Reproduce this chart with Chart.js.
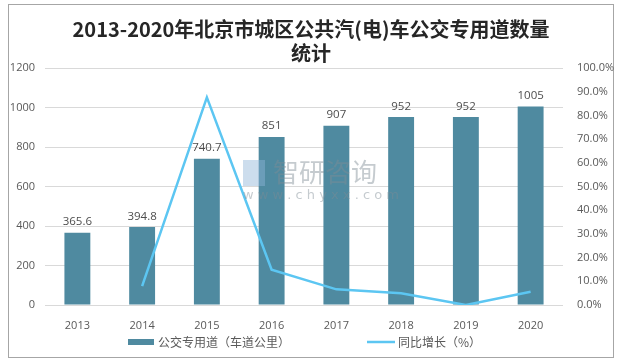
<!DOCTYPE html>
<html><head><meta charset="utf-8">
<script src="https://cdn.jsdelivr.net/npm/chart.js@4/dist/chart.umd.min.js"></script>
<style>html,body{margin:0;padding:0;background:#fff}#c{display:block}</style>
</head><body>
<canvas id="c" width="624" height="364"></canvas>
<script>
const categories = ['2013','2014','2015','2016','2017','2018','2019','2020'];
const laneKm = [365.6, 394.8, 740.7, 851, 907, 952, 952, 1005];
const growthPct = [null, 8.0, 87.6, 14.9, 6.6, 5.0, 0.0, 5.6];
const titleLines = ['2013-2020年北京市城区公共汽(电)车公交专用道数量', '统计'];
const barLabel = '公交专用道（车道公里）';
const lineLabel = '同比增长（%）';
const watermark = ['智研咨询', 'www.chyxx.com'];

const BAR = '#4f8aa0', LINE = '#5cc6f2', TICK = '#595959';
const FONT = '"Open Sans","Noto Sans CJK SC",sans-serif';

const deco = {
  id: 'deco',
  beforeDraw(chart) {
    const ctx = chart.ctx;
    ctx.save();
    ctx.fillStyle = '#fff';
    ctx.fillRect(0, 0, chart.width, chart.height);
    ctx.strokeStyle = '#a6a6a6';
    ctx.lineWidth = 1;
    ctx.strokeRect(8.5, 4.5, 605, 353);
    ctx.restore();
  },
  afterDatasetsDraw(chart) {
    const ctx = chart.ctx;
    ctx.save();
    // watermark
    ctx.globalAlpha = 0.45;
    ctx.fillStyle = '#7f8c95';
    ctx.font = '26px "Noto Sans CJK SC"';
    ctx.textAlign = 'left'; ctx.textBaseline = 'middle';
    ctx.fillText(watermark[0], 273, 172);
    ctx.font = '13px "DejaVu Sans"';
    ctx.fillText(watermark[1].split('').join(' '), 243, 196);
    ctx.fillStyle = '#8fb4d8';
    ctx.fillRect(243, 160, 22, 26);
    ctx.globalAlpha = 1;
    // data labels
    const meta = chart.getDatasetMeta(1);
    ctx.fillStyle = '#4d4d4d';
    ctx.font = '11.5px ' + FONT;
    ctx.textAlign = 'center'; ctx.textBaseline = 'bottom';
    meta.data.forEach((el, i) => {
      ctx.fillText(String(laneKm[i]), el.x, el.y - 5);
    });
    // title
    ctx.fillStyle = '#262626';
    ctx.font = 'bold 20px "Noto Sans CJK SC"';
    ctx.textBaseline = 'middle';
    ctx.fillText(titleLines[0], 311, 29);
    ctx.fillText(titleLines[1], 311, 53);
    // legend
    ctx.fillStyle = BAR;
    ctx.fillRect(128, 339, 26, 6);
    ctx.strokeStyle = LINE; ctx.lineWidth = 2.5;
    ctx.beginPath(); ctx.moveTo(367, 342); ctx.lineTo(395, 342); ctx.stroke();
    ctx.fillStyle = TICK;
    ctx.font = '12px "Noto Sans CJK SC"';
    ctx.textAlign = 'left';
    ctx.fillText(barLabel, 158, 342);
    ctx.fillText(lineLabel, 398, 342);
    ctx.restore();
  }
};

new Chart(document.getElementById('c'), {
  data: {
    labels: categories,
    datasets: [
      { type: 'line', label: lineLabel, data: growthPct, yAxisID: 'y1',
        borderColor: LINE, borderWidth: 2.5, pointRadius: 0, tension: 0, order: 0 },
      { type: 'bar', label: barLabel, data: laneKm, yAxisID: 'y',
        backgroundColor: BAR, categoryPercentage: 1, barPercentage: 0.4, order: 1 }
    ]
  },
  options: {
    responsive: false, animation: false,
    layout: { padding: { top: 68, bottom: 0, left: 0, right: 0 } },
    plugins: { legend: { display: false }, tooltip: { enabled: false }, title: { display: false } },
    scales: {
      x: {
        grid: { display: false }, border: { display: false },
        ticks: { color: TICK, font: { size: 11, family: FONT }, padding: 6 },
        afterFit(s) { s.height = 59; }
      },
      y: {
        position: 'left', min: 0, max: 1200,
        ticks: { stepSize: 200, color: TICK, font: { size: 11, family: FONT }, padding: 10,
                 callback: v => String(v) },
        grid: { color: '#d9d9d9', drawTicks: false }, border: { display: false },
        afterFit(s) { s.width = 45; }
      },
      y1: {
        position: 'right', min: 0, max: 100,
        ticks: { stepSize: 10, color: TICK, font: { size: 11, family: FONT }, padding: 6,
                 callback: v => v.toFixed(1) + '%' },
        grid: { display: false }, border: { display: false },
        afterFit(s) { s.width = 61; }
      }
    }
  },
  plugins: [deco]
});
</script>
</body></html>
